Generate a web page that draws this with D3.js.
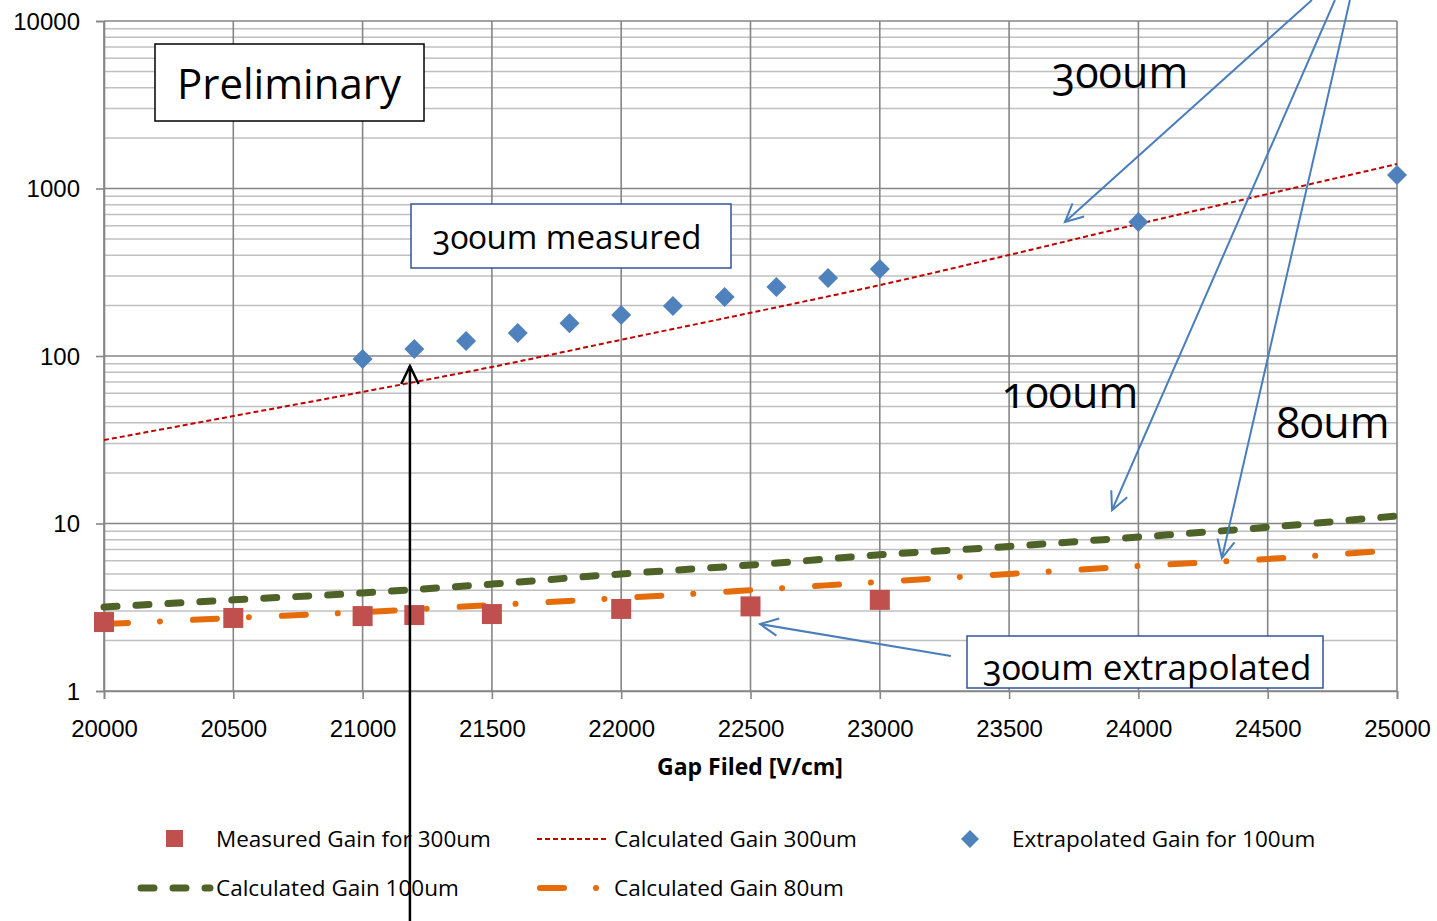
<!doctype html>
<html>
<head>
<meta charset="utf-8" />
<script src="https://d3js.org/d3.v7.min.js"></script>
<style>
  body{ margin:0; background:#fff; }
  svg text{ font-family: "Open Sans", sans-serif; fill:#000; }
  .ticklbl text{ font-family: "Liberation Sans", Arial, sans-serif; font-size:24px; }
  .old{ font-variant-numeric: oldstyle-nums; font-feature-settings: "onum" 1; }
</style>
</head>
<body>
<script>
// ---- data ----
var xTicks = [20000,20500,21000,21500,22000,22500,23000,23500,24000,24500,25000];
var yTicks = [1,10,100,1000,10000];

// Measured Gain for 300um (squares)
var measX = [20000,20500,21000,21200,21500,22000,22500,23000];
var measY = [2.58,2.73,2.8,2.84,2.88,3.09,3.2,3.5];

// Extrapolated Gain for 100um (diamonds)
var extX = [21000,21200,21400,21600,21800,22000,22200,22400,22600,22800,23000,24000,25000];
var extY = [96,110,123,137,157,176,199,225,258,292,331,631,1205];

// calculated curves
var calcX = [20000,20500,21000,21500,22000,22500,23000,23500,24000,24500,25000];
var calc300 = [31.5,43.8,61,86,125,181,265,401,614,927,1400];
var calc100 = [3.17,3.5,3.85,4.35,5.0,5.65,6.5,7.3,8.3,9.5,11.1];
var calc80  = [2.51,2.73,2.96,3.26,3.59,4.0,4.48,5.0,5.57,6.14,6.95];

var legendNames = ["Measured Gain for 300um","Calculated Gain 300um","Extrapolated Gain for 100um",
                   "Calculated Gain 100um","Calculated Gain 80um"];

var W = 1437, H = 921;
var svg = d3.select("body").append("svg").attr("width", W).attr("height", H);

var x = d3.scaleLinear().domain([20000,25000]).range([104,1397]);
var y = d3.scaleLog().domain([1,10000]).range([691,21]);

// minor grid
var minor = [];
[1,10,100,1000].forEach(function(d){ for (var k=2;k<=9;k++) minor.push(d*k); });
svg.append("g").selectAll("line").data(minor).enter().append("line")
  .attr("x1", x(20000)).attr("x2", x(25000))
  .attr("y1", d => y(d)).attr("y2", d => y(d))
  .attr("stroke", "#c0c0c0").attr("stroke-width", 1.5);

// major grid
svg.append("g").selectAll("line").data(yTicks).enter().append("line")
  .attr("x1", x(20000)).attr("x2", x(25000))
  .attr("y1", d => y(d)).attr("y2", d => y(d))
  .attr("stroke", "#868686").attr("stroke-width", 1.6);
svg.append("g").selectAll("line").data(xTicks).enter().append("line")
  .attr("x1", d => x(d)).attr("x2", d => x(d))
  .attr("y1", y(1)).attr("y2", y(10000))
  .attr("stroke", "#868686").attr("stroke-width", 1.6);

// axes
var yAxis = d3.axisLeft(y).tickValues(yTicks).tickFormat(d3.format("d")).tickSize(8).tickPadding(16);
var gy = svg.append("g").attr("class","ticklbl").attr("transform","translate("+x(20000)+",0)").call(yAxis);
var xAxis = d3.axisBottom(x).tickValues(xTicks).tickFormat(d3.format("d")).tickSize(8).tickPadding(16);
var gx = svg.append("g").attr("class","ticklbl").attr("transform","translate(0,"+y(1)+")").call(xAxis);
[gx, gy].forEach(function(g){
  g.selectAll("path").attr("stroke","#868686").attr("stroke-width",1.6);
  g.selectAll("line").attr("stroke","#868686").attr("stroke-width",1.6);
  g.selectAll("text").attr("font-size", null).attr("font-family", null);
});
gy.selectAll("text").attr("dy","0.35em");
gx.selectAll("text").attr("dy","0.9em");

svg.append("text").attr("x", 750).attr("y", 775).attr("text-anchor","middle")
  .attr("font-size", 23).attr("font-weight","bold").text("Gap Filed [V/cm]");

// calculated lines
var line = d3.line().x(d => x(d[0])).y(d => y(d[1])).curve(d3.curveMonotoneX);
var red = "#c00000", green = "#4f6228", orange = "#e46c0a", blue = "#4f81bd", sq = "#c0504d";

svg.append("path").datum(d3.zip(calcX, calc100)).attr("d", line)
  .attr("fill","none").attr("stroke", green).attr("stroke-width", 7)
  .attr("stroke-linecap","round").attr("stroke-dasharray","13 19");
svg.append("path").datum(d3.zip(calcX, calc80)).attr("d", line)
  .attr("fill","none").attr("stroke", orange).attr("stroke-width", 6)
  .attr("stroke-linecap","round").attr("stroke-dasharray","24 32 0.01 33");
svg.append("path").datum(d3.zip(calcX, calc300)).attr("d", line)
  .attr("fill","none").attr("stroke", red).attr("stroke-width", 2)
  .attr("stroke-dasharray","5 3");

// markers
svg.append("g").selectAll("rect").data(d3.zip(measX, measY)).enter().append("rect")
  .attr("x", d => x(d[0]) - 10).attr("y", d => y(d[1]) - 10)
  .attr("width", 20).attr("height", 20).attr("fill", sq);
var diamond = function(s){ return "M0,"+(-s)+"L"+s+",0L0,"+s+"L"+(-s)+",0Z"; };
svg.append("g").selectAll("path").data(d3.zip(extX, extY)).enter().append("path")
  .attr("transform", d => "translate("+x(d[0])+","+y(d[1])+")")
  .attr("d", diamond(10)).attr("fill", blue);

// annotations
function box(x0, y0, w, h, col, sw){
  svg.append("rect").attr("x",x0).attr("y",y0).attr("width",w).attr("height",h)
    .attr("fill","#fff").attr("stroke",col).attr("stroke-width",sw);
}
box(155, 44, 269, 77, "#000", 1.5);
svg.append("text").attr("x", 289).attr("y", 99).attr("text-anchor","middle")
  .attr("font-size", 42).text("Preliminary");

box(411, 204, 320, 64, "#2f5597", 1.5);
svg.append("text").attr("class","old").attr("x", 567).attr("y", 249).attr("text-anchor","middle")
  .attr("font-size", 33).text("300um measured");

box(967, 636, 356, 52, "#2f5597", 1.5);

svg.append("text").attr("class","old").attr("x", 1120).attr("y", 88).attr("text-anchor","middle")
  .attr("font-size", 43).text("300um");
svg.append("text").attr("class","old").attr("x", 1070).attr("y", 408).attr("text-anchor","middle")
  .attr("font-size", 43).text("100um");
svg.append("text").attr("class","old").attr("x", 1333).attr("y", 438).attr("text-anchor","middle")
  .attr("font-size", 43).text("80um");

// arrows, given in data units
var arrowCol = "#4a7ebb";
var arrows = [
  [[24671,13340],[23716,631]],
  [[24760,13340],[23898,12.0]],
  [[24818,13340],[24323,6.22]],
  [[23275,1.62],[22537,2.51]]
];
function arrow(p0, p1, col, sw){
  var ax = x(p0[0]), ay = y(p0[1]), bx = x(p1[0]), by = y(p1[1]);
  var ang = Math.atan2(by - ay, bx - ax), L = 20, a = 0.45;
  svg.append("line").attr("x1",ax).attr("y1",ay).attr("x2",bx).attr("y2",by)
    .attr("stroke",col).attr("stroke-width",sw);
  svg.append("path")
    .attr("d","M"+(bx - L*Math.cos(ang - a))+","+(by - L*Math.sin(ang - a))+
              "L"+bx+","+by+
              "L"+(bx - L*Math.cos(ang + a))+","+(by - L*Math.sin(ang + a)))
    .attr("fill","none").attr("stroke",col).attr("stroke-width",sw);
}
arrows.forEach(a => arrow(a[0], a[1], arrowCol, 2));

svg.append("text").attr("class","old").attr("x", 1147).attr("y", 680).attr("text-anchor","middle")
  .attr("font-size", 35).text("300um extrapolated");

// legend
var lg = svg.append("g");
lg.append("rect").attr("x",166).attr("y",830).attr("width",17).attr("height",17).attr("fill",sq);
lg.append("line").attr("x1",537).attr("x2",607).attr("y1",839).attr("y2",839)
  .attr("stroke",red).attr("stroke-width",2).attr("stroke-dasharray","5 3");
lg.append("path").attr("transform","translate(970,839)").attr("d",diamond(9)).attr("fill",blue);
lg.append("line").attr("x1",141).attr("x2",210).attr("y1",888).attr("y2",888)
  .attr("stroke",green).attr("stroke-width",7).attr("stroke-linecap","round").attr("stroke-dasharray","13 19");
lg.append("line").attr("x1",540).attr("x2",600).attr("y1",888).attr("y2",888)
  .attr("stroke",orange).attr("stroke-width",6).attr("stroke-linecap","round").attr("stroke-dasharray","24 32 0.01 33");
var lpos = [[216,839],[614,839],[1012,839],[216,888],[614,888]];
lg.selectAll("text").data(legendNames).enter().append("text")
  .attr("x", (d,i) => lpos[i][0]).attr("y", (d,i) => lpos[i][1]).attr("dy","0.35em")
  .attr("font-size", 22.5).text(d => d);

// black arrow (drawn last, sits on top)
arrow([21183, 0.042], [21183, 87.1], "#000", 2.5);
</script>
</body>
</html>
